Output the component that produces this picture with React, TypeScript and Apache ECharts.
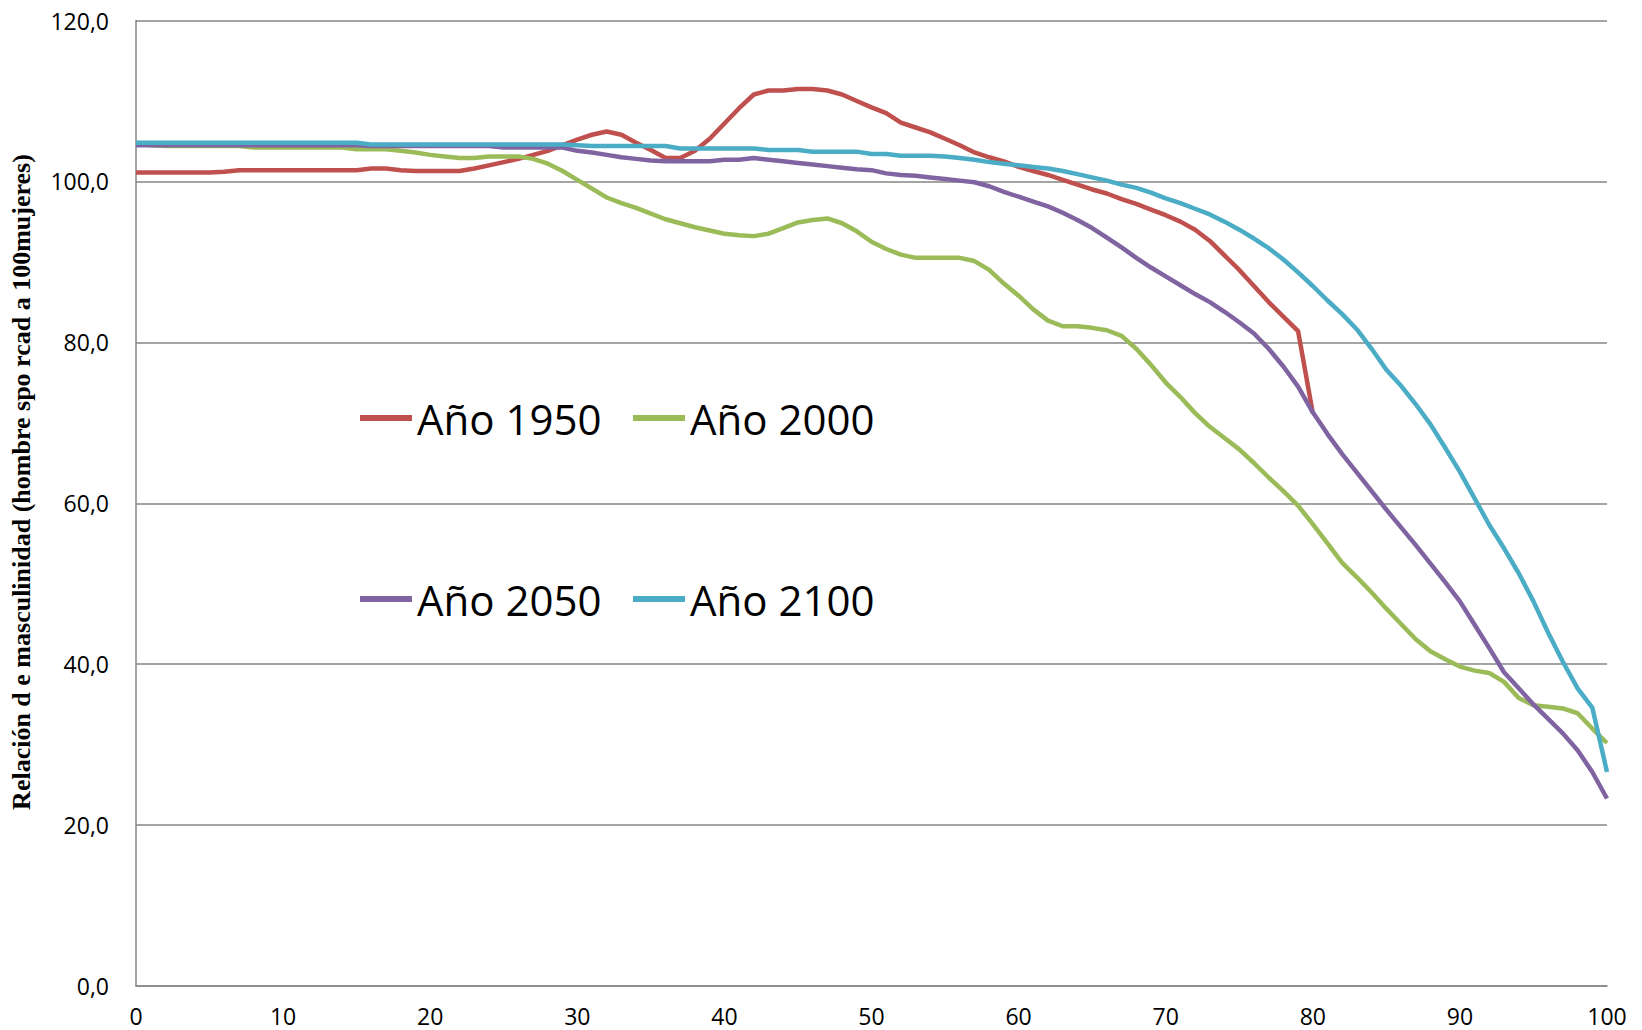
import React, { useEffect, useRef } from "react";
import * as echarts from "echarts";

const ages: number[] = Array.from({ length: 101 }, (_, i) => i);

// Año 1950 (ages 0..80)
const y1950 = [
  101.1, 101.1, 101.1, 101.1, 101.1, 101.1, 101.2, 101.4, 101.4, 101.4, // 0-9
  101.4, 101.4, 101.4, 101.4, 101.4, 101.4, 101.6, 101.6, 101.4, 101.3, // 10-19
  101.3, 101.3, 101.3, 101.6, 102.0, 102.4, 102.8, 103.3, 103.8, 104.5, // 20-29
  105.2, 105.8, 106.2, 105.8, 104.8, 103.9, 102.9, 102.9, 103.8, 105.3, // 30-39
  107.2, 109.1, 110.8, 111.3, 111.3, 111.5, 111.5, 111.3, 110.8, 110.0, // 40-49
  109.2, 108.5, 107.3, 106.7, 106.1, 105.3, 104.5, 103.6, 103.0, 102.5, // 50-59
  101.8, 101.3, 100.8, 100.2, 99.6, 99.0, 98.5, 97.8, 97.2, 96.5, // 60-69
  95.8, 95.0, 94.0, 92.6, 90.8, 89.0, 87.0, 85.0, 83.2, 81.4, // 70-79
  71.2, // 80
];

// Año 2000
const y2000 = [
  104.8, 104.5, 104.4, 104.4, 104.4, 104.4, 104.4, 104.4, 104.2, 104.2, // 0-9
  104.2, 104.2, 104.2, 104.2, 104.2, 104.0, 104.0, 104.0, 103.8, 103.6, // 10-19
  103.3, 103.1, 102.9, 102.9, 103.1, 103.1, 103.1, 102.8, 102.2, 101.3, // 20-29
  100.2, 99.1, 98.0, 97.3, 96.7, 96.0, 95.3, 94.8, 94.3, 93.9, // 30-39
  93.5, 93.3, 93.2, 93.5, 94.2, 94.9, 95.2, 95.4, 94.8, 93.8, // 40-49
  92.5, 91.6, 90.9, 90.5, 90.5, 90.5, 90.5, 90.1, 89.0, 87.3, // 50-59
  85.8, 84.1, 82.7, 82.0, 82.0, 81.8, 81.5, 80.8, 79.2, 77.2, // 60-69
  75.0, 73.2, 71.2, 69.5, 68.1, 66.7, 65.0, 63.2, 61.5, 59.7, // 70-79
  57.4, 55.0, 52.6, 50.8, 48.9, 46.9, 45.0, 43.1, 41.6, 40.6, // 80-89
  39.7, 39.2, 38.9, 37.8, 35.8, 34.9, 34.7, 34.5, 33.9, 32.0, // 90-99
  30.2, // 100
];

// Año 2050
const y2050 = [
  104.5, 104.5, 104.5, 104.5, 104.5, 104.5, 104.5, 104.5, 104.5, 104.5, // 0-9
  104.5, 104.5, 104.5, 104.5, 104.5, 104.5, 104.4, 104.4, 104.4, 104.4, // 10-19
  104.4, 104.4, 104.4, 104.4, 104.4, 104.2, 104.2, 104.2, 104.2, 104.2, // 20-29
  103.8, 103.6, 103.3, 103.0, 102.8, 102.6, 102.5, 102.5, 102.5, 102.5, // 30-39
  102.7, 102.7, 102.9, 102.7, 102.5, 102.3, 102.1, 101.9, 101.7, 101.5, // 40-49
  101.4, 101.0, 100.8, 100.7, 100.5, 100.3, 100.1, 99.9, 99.4, 98.7, // 50-59
  98.1, 97.5, 96.9, 96.1, 95.2, 94.2, 93.0, 91.8, 90.5, 89.3, // 60-69
  88.2, 87.1, 86.0, 85.0, 83.8, 82.5, 81.1, 79.2, 77.0, 74.5, // 70-79
  71.3, 68.6, 66.1, 63.8, 61.5, 59.2, 57.0, 54.8, 52.5, 50.2, // 80-89
  47.8, 44.9, 42.0, 39.0, 37.0, 35.0, 33.2, 31.4, 29.3, 26.6, // 90-99
  23.3, // 100
];

// Año 2100
const y2100 = [
  104.8, 104.8, 104.8, 104.8, 104.8, 104.8, 104.8, 104.8, 104.8, 104.8, // 0-9
  104.8, 104.8, 104.8, 104.8, 104.8, 104.8, 104.6, 104.6, 104.6, 104.6, // 10-19
  104.6, 104.6, 104.6, 104.6, 104.6, 104.6, 104.6, 104.6, 104.6, 104.6, // 20-29
  104.5, 104.4, 104.4, 104.4, 104.4, 104.4, 104.4, 104.1, 104.1, 104.1, // 30-39
  104.1, 104.1, 104.1, 103.9, 103.9, 103.9, 103.7, 103.7, 103.7, 103.7, // 40-49
  103.4, 103.4, 103.2, 103.2, 103.2, 103.1, 102.9, 102.7, 102.4, 102.2, // 50-59
  102.0, 101.8, 101.6, 101.3, 100.9, 100.5, 100.1, 99.6, 99.2, 98.6, // 60-69
  97.9, 97.3, 96.6, 95.9, 95.0, 94.0, 92.9, 91.7, 90.3, 88.7, // 70-79
  87.0, 85.2, 83.5, 81.6, 79.2, 76.6, 74.6, 72.3, 69.8, 66.9, // 80-89
  63.9, 60.6, 57.3, 54.4, 51.3, 47.8, 43.9, 40.3, 37.0, 34.6, // 90-99
  26.6, // 100
];

const seriesNames = ["Año 1950", "Año 2000", "Año 2050", "Año 2100"];
const seriesValues = [y1950, y2000, y2050, y2100];
const seriesColors = ["#C0504D", "#9BBB59", "#8064A2", "#4BACC6"];

const yTitle = "Relación d e masculinidad (hombre spo rcad a 100mujeres)";

const FONT = "'Open Sans', sans-serif";

export default function App() {
  const ref = useRef<HTMLDivElement>(null);

  useEffect(() => {
    if (!ref.current) return;
    const chart = echarts.init(ref.current, undefined, { renderer: "svg" });

    const legendPos = [
      { left: 360, top: 397 },
      { left: 633, top: 397 },
      { left: 360, top: 578 },
      { left: 633, top: 578 },
    ];

    const option: any = {
      animation: false,
      backgroundColor: "#ffffff",
      grid: { left: 136, top: 20.5, right: 35, bottom: 44, containLabel: false },
      xAxis: {
        type: "value",
        min: 0,
        max: 100,
        interval: 10,
        axisLine: { show: true, lineStyle: { color: "#868686", width: 1.5 } },
        axisTick: { show: false },
        splitLine: { show: false },
        axisLabel: { color: "#000", fontSize: 23, fontFamily: FONT, margin: 18 },
      },
      yAxis: {
        type: "value",
        min: 0,
        max: 120,
        interval: 20,
        axisLine: { show: true, lineStyle: { color: "#868686", width: 1.5 } },
        axisTick: { show: false },
        splitLine: { show: true, lineStyle: { color: "#868686", width: 1.5 } },
        axisLabel: {
          color: "#000",
          fontSize: 23,
          fontFamily: FONT,
          margin: 27,
          formatter: (v: number) => v.toFixed(1).replace(".", ","),
        },
      },
      legend: seriesNames.map((name, i) => ({
        data: [name],
        left: legendPos[i].left,
        top: legendPos[i].top,
        padding: 0,
        icon: "rect",
        itemWidth: 52,
        itemHeight: 6,
        textStyle: { fontSize: 42, fontFamily: FONT, color: "#000", lineHeight: 42 },
      })),
      series: seriesNames.map((name, i) => ({
        name,
        type: "line",
        data: seriesValues[i].map((v, j) => [ages[j], v]),
        symbol: "none",
        showSymbol: false,
        smooth: false,
        color: seriesColors[i],
        lineStyle: { width: 4.5, color: seriesColors[i], cap: "butt", join: "round" },
        itemStyle: { color: seriesColors[i] },
      })),
      graphic: [
        {
          type: "text",
          x: 21,
          y: 482,
          rotation: Math.PI / 2,
          style: {
            text: yTitle,
            font: "bold 26px 'Liberation Serif', 'Times New Roman', serif",
            fill: "#000",
            align: "center",
            verticalAlign: "middle",
          },
        },
      ],
    };

    chart.setOption(option);
    return () => chart.dispose();
  }, []);

  return (
    <div
      ref={ref}
      style={{ position: "fixed", left: 0, top: 0, width: 1642, height: 1030, background: "#fff" }}
    />
  );
}
